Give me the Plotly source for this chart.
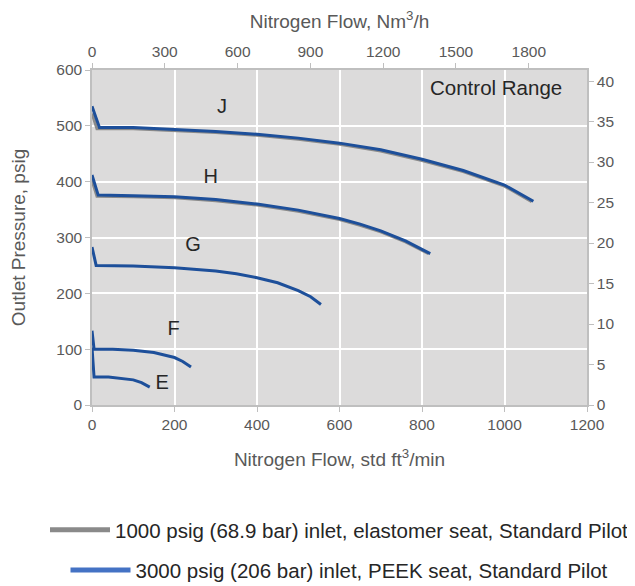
import plotly.graph_objects as go

# ---- data (std ft3/min, psig) ----
curve_names = ["J", "H", "G", "F", "E"]

j_flow = [0, 18, 100, 200, 300, 400, 500, 600, 700, 800, 900, 1000, 1070]
j_press = [535, 497, 497, 494, 490, 485, 478, 469, 457, 440, 420, 394, 365]

h_flow = [0, 15, 100, 200, 300, 400, 500, 600, 650, 700, 760, 820]
h_press = [412, 376, 375, 373, 368, 360, 349, 334, 324, 312, 294, 271]

g_flow = [0, 10, 100, 200, 300, 350, 400, 450, 500, 530, 555]
g_press = [283, 250, 249, 246, 240, 235, 228, 219, 205, 194, 180]

f_flow = [0, 5, 50, 100, 150, 200, 220, 240]
f_press = [133, 100, 100, 98, 94, 85, 78, 68]

e_flow = [0, 5, 40, 70, 100, 120, 140]
e_press = [103, 50, 50, 48, 45, 40, 32]

# 1000 psig inlet (grey, mostly hidden under the blue curves)
jg_flow = [0, 12, 100, 200, 300, 400, 500, 600, 700, 800, 900, 1000, 1066]
jg_press = [522, 495, 495, 492, 488, 483, 476, 467, 455, 438, 418, 392, 364]
hg_flow = [0, 12, 100, 200, 300, 400, 500, 600, 650, 700, 760, 816]
hg_press = [402, 374, 373, 371, 366, 358, 347, 332, 322, 310, 292, 271]

label_x = [315, 288, 245, 198, 170]
label_y = [532, 407, 284, 134, 37]

legend_names = ["1000 psig (68.9 bar) inlet, elastomer seat, Standard Pilot",
                "3000 psig (206 bar) inlet, PEEK seat, Standard Pilot"]

x_ticks = [0, 200, 400, 600, 800, 1000, 1200]
y_ticks = [0, 100, 200, 300, 400, 500, 600]
x2_ticks = [0, 300, 600, 900, 1200, 1500, 1800]
y2_ticks = [0, 5, 10, 15, 20, 25, 30, 35, 40]

# ---- styling ----
BLUE = "#1d4f9a"
GREY = "#8a8a8a"
LEG_BLUE = "#4472c4"
TXT = "#595959"
DARK = "#262626"
FONT = "Liberation Sans"

fig = go.Figure()

for fx, py in [(jg_flow, jg_press), (hg_flow, hg_press)]:
    fig.add_trace(go.Scatter(x=fx, y=py, mode="lines", line=dict(color=GREY, width=3),
                             showlegend=False, hoverinfo="skip"))

for fx, py in [(j_flow, j_press), (h_flow, h_press), (g_flow, g_press),
               (f_flow, f_press), (e_flow, e_press)]:
    fig.add_trace(go.Scatter(x=fx, y=py, mode="lines", line=dict(color=BLUE, width=3),
                             showlegend=False, hoverinfo="skip"))

# curve labels
fig.add_trace(go.Scatter(x=label_x, y=label_y, mode="text", text=curve_names,
                         textfont=dict(family=FONT, size=20, color=DARK),
                         showlegend=False, hoverinfo="skip"))

# legend entries
fig.add_trace(go.Scatter(x=[None], y=[None], mode="lines", line=dict(color=GREY, width=5),
                         name=legend_names[0], legend="legend"))
fig.add_trace(go.Scatter(x=[None], y=[None], mode="lines", line=dict(color=LEG_BLUE, width=5),
                         name=legend_names[1], legend="legend2"))

# secondary axes anchor trace
fig.add_trace(go.Scatter(x=[None], y=[None], xaxis="x2", yaxis="y2", showlegend=False,
                         hoverinfo="skip"))

axis_common = dict(showline=True, linecolor="#bfbfbf", linewidth=1.5, ticks="outside",
                   ticklen=5, tickcolor="#bfbfbf", tickfont=dict(family=FONT, size=15.5, color=TXT),
                   zeroline=False, mirror=False, automargin=False)

title_font = dict(family=FONT, size=19, color=TXT)

# page body has an 8px margin, so the figure is offset by it
fig.update_layout(
    width=619, height=578,
    margin=dict(l=84, r=40, t=62, b=181, autoexpand=False),
    paper_bgcolor="white",
    plot_bgcolor="#dcdbdb",
    font=dict(family=FONT, color=TXT),
    xaxis=dict(range=[0, 1200], tickvals=x_ticks, showgrid=True, gridcolor="white", gridwidth=2,
               title=dict(text="Nitrogen Flow, std ft<sup>3</sup>/min", font=title_font, standoff=20),
               **axis_common),
    yaxis=dict(range=[0, 600], tickvals=y_ticks, showgrid=True, gridcolor="white", gridwidth=2,
               title=dict(text="Outlet Pressure, psig", font=title_font, standoff=29),
               **axis_common),
    xaxis2=dict(range=[0, 2040], tickvals=x2_ticks, overlaying="x", side="top", anchor="y",
                showgrid=False,
                title=dict(text="Nitrogen Flow, Nm<sup>3</sup>/h", font=title_font, standoff=20),
                **axis_common),
    yaxis2=dict(range=[0, 600 / 14.5038], tickvals=y2_ticks, overlaying="y", side="right",
                anchor="x", showgrid=False, **axis_common),
    legend=dict(x=0.5, y=-0.373, xanchor="center", yanchor="middle", itemwidth=60,
                font=dict(family=FONT, size=20.5, color=DARK), bgcolor="rgba(0,0,0,0)"),
    legend2=dict(x=0.5, y=-0.493, xanchor="center", yanchor="middle", itemwidth=60,
                 font=dict(family=FONT, size=20.5, color=DARK), bgcolor="rgba(0,0,0,0)"),
    annotations=[dict(text="Control Range", x=1145, y=568, xref="x", yref="y", showarrow=False,
                      xanchor="right", font=dict(family=FONT, size=20.5, color=DARK))],
)

fig.write_html("out.html")
